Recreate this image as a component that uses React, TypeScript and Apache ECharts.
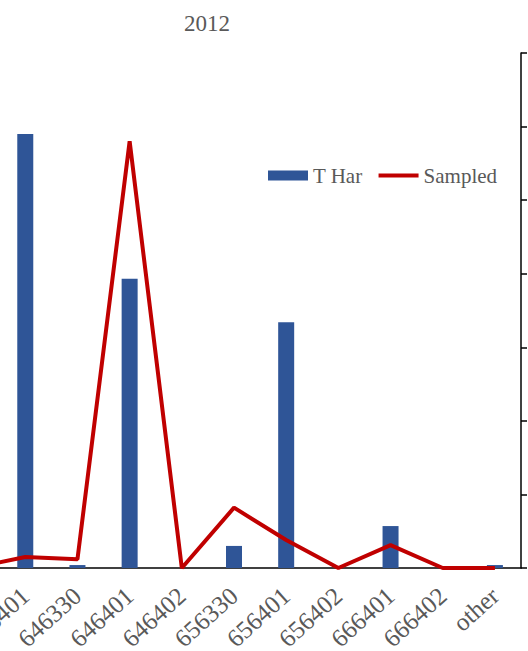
import React, { useEffect, useRef } from "react";
import * as echarts from "echarts";

const categories = ["636330", "636401", "646330", "646401", "646402", "656330", "656401", "656402", "666401", "666402", "other"];
const tHarValues = [0, 590, 4, 393, 0, 30, 334, 0, 57, 0, 4];
const sampledValues = [0, 0.75, 0.6, 29.0, 0, 4.1, 1.9, 0, 1.55, 0, 0];
const titleText = "2012";

const SHIFT = 53;

export default function App() {
  const ref = useRef<HTMLDivElement>(null);
  useEffect(() => {
    if (!ref.current) return;
    const chart = echarts.init(ref.current, null, { renderer: "svg" });
    const font = "Liberation Serif";
    chart.setOption({
      animation: false,
      backgroundColor: "#ffffff",
      title: {
        text: titleText,
        left: 179 + SHIFT,
        top: 7,
        textStyle: { fontFamily: font, fontSize: 23, fontWeight: "normal", color: "#595959" },
      },
      legend: {
        left: 263 + SHIFT,
        top: 160,
        itemWidth: 40,
        itemHeight: 10,
        itemGap: 16,
        textStyle: { fontFamily: font, fontSize: 21, color: "#595959" },
        data: [
          { name: "T Har", icon: "rect" },
          { name: "Sampled", icon: "path://M0,0H40V4H0Z", itemStyle: { color: "#C00000" } },
        ],
      },
      grid: { left: 0, right: 7, top: 53, bottom: 83, containLabel: false, outerBoundsMode: "none" },
      xAxis: {
        type: "category",
        data: categories,
        boundaryGap: true,
        axisLine: { show: true, lineStyle: { color: "#000000", width: 1.5 } },
        axisTick: { show: false },
        axisLabel: {
          interval: 0,
          rotate: 42,
          margin: 24,
          fontFamily: font,
          fontSize: 25,
          color: "#595959",
        },
      },
      yAxis: [
        {
          type: "value",
          min: 0,
          max: 700,
          interval: 100,
          show: false,
          splitLine: { show: false },
        },
        {
          type: "value",
          position: "right",
          min: 0,
          max: 35,
          interval: 5,
          axisLine: { show: true, lineStyle: { color: "#000000", width: 1.5 } },
          axisTick: { show: true, inside: false, length: 6, lineStyle: { color: "#000000", width: 1.5 } },
          axisLabel: { show: false },
          splitLine: { show: false },
        },
      ],
      series: [
        {
          name: "T Har",
          type: "bar",
          yAxisIndex: 0,
          data: tHarValues,
          barWidth: 16,
          itemStyle: { color: "#2F5597" },
        },
        {
          name: "Sampled",
          type: "line",
          yAxisIndex: 1,
          data: sampledValues,
          symbol: "none",
          lineStyle: { color: "#C00000", width: 4 },
          itemStyle: { color: "#C00000" },
        },
      ],
    });
    return () => chart.dispose();
  }, []);
  return (
    <div style={{ position: "absolute", left: 0, top: 0, width: 528, height: 651, overflow: "hidden" }}>
      <div ref={ref} style={{ position: "absolute", left: -SHIFT, top: 0, width: 528 + SHIFT, height: 651 }} />
    </div>
  );
}
